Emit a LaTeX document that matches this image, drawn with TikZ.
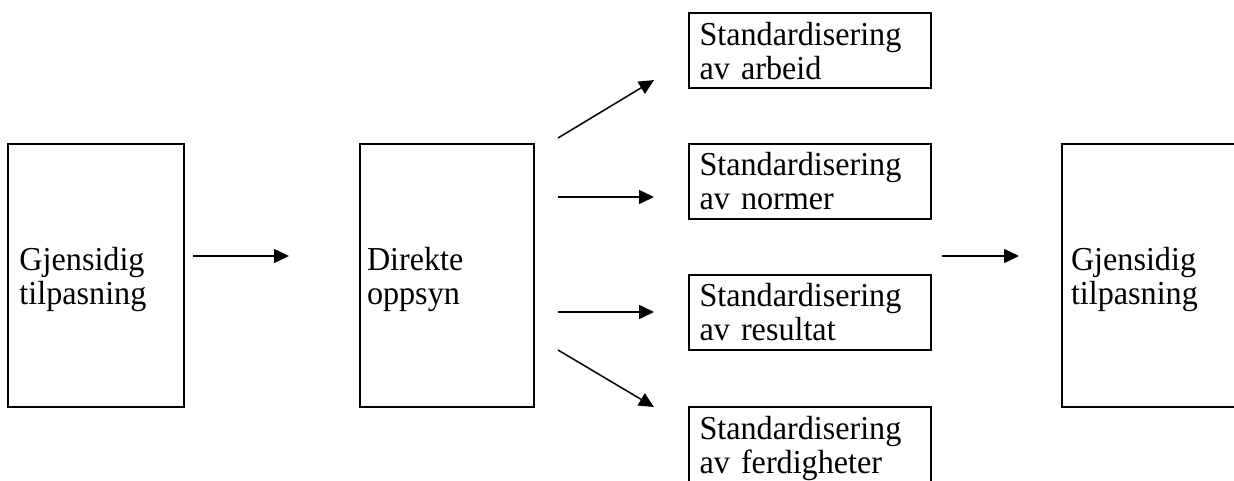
\documentclass[tikz,border=0pt]{standalone}
\usepackage{fontspec}
\setmainfont{Liberation Serif}[FakeStretch=0.96]
\usetikzlibrary{arrows.meta}
\tikzset{
  box/.style={draw, line width=2pt, outer sep=0pt, inner ysep=0pt, align=left,
    font=\fontsize{33.5pt}{34pt}\selectfont, text height=22.5pt, text depth=33.5pt},
  bigbox/.style={box, minimum height=263pt},
  smallbox/.style={box, minimum height=75pt, minimum width=242pt,
    text width=221pt, inner xsep=10.5pt},
  arr/.style={-{Triangle[length=15pt,width=14pt]}, line width=1.5pt}
}
\begin{document}
\begin{tikzpicture}[x=1pt,y=-1pt]
\useasboundingbox (0,0) rectangle (1234,480);
\clip (0,0) rectangle (1234,480);

% main stages
\node[bigbox, minimum width=176pt, text width=153pt, inner xsep=11.5pt] (left) at (96,275.5) {Gjensidig\\tilpasning};
\node[bigbox, minimum width=174pt, text width=160pt, inner xsep=7pt] (direct) at (447,275.5) {Direkte\\oppsyn};
\node[bigbox, minimum width=180pt, text width=162pt, inner xsep=9pt] (right) at (1152,275.5) {Gjensidig\\tilpasning};

% standardisation forms
\node[smallbox] (b1) at (810,50.5) {Standardisering\\av arbeid};
\node[smallbox] (b2) at (810,181) {Standardisering\\av normer};
\node[smallbox] (b3) at (810,312) {Standardisering\\av resultat};
\node[smallbox] (b4) at (810,444.5) {Standardisering\\av ferdigheter};

% connectors
\draw[arr, shorten <=9pt, shorten >=71pt] (left.east |- 0,256) -- (direct.west |- 0,256);
\draw[arr, shorten <=28pt, shorten >=40.9pt] (direct.east |- 0,152.5) -- (b1.west |- 0,58.9);
\draw[arr, shorten <=24pt, shorten >=35pt] (direct.east |- 0,197) -- (b2.west |- 0,197);
\draw[arr, shorten <=24pt, shorten >=35pt] (direct.east |- 0,312) -- (b3.west |- 0,312);
\draw[arr, shorten <=27.9pt, shorten >=40.7pt] (direct.east |- 0,335.75) -- (b4.west |- 0,427.8);
\draw[arr, shorten <=11pt, shorten >=43pt] (b2.east |- 0,256) -- (right.west |- 0,256);
\end{tikzpicture}
\end{document}
